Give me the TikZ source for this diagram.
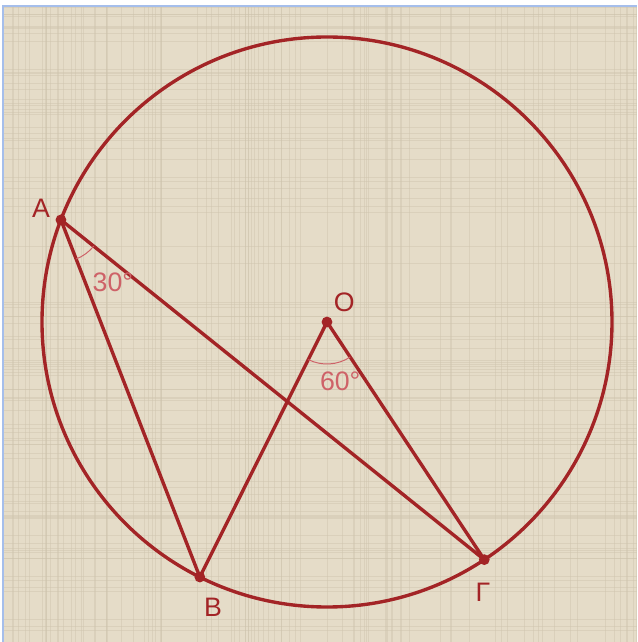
\documentclass[tikz,border=0pt]{standalone}
\usepackage{fontspec}
\setsansfont{Liberation Sans}
\usetikzlibrary{angles}
\definecolor{wine}{RGB}{163,36,38}
\definecolor{rosy}{RGB}{206,98,104}
\definecolor{paper}{RGB}{229,220,200}
\definecolor{weave}{RGB}{205,195,172}
\definecolor{frameblue}{RGB}{165,190,235}
\tikzset{
  edge/.style={draw=wine, line width=2.4pt},
  dot/.style={circle, fill=wine, inner sep=0pt, minimum size=2.7mm},
  lbl/.style={text=wine, font=\sffamily\fontsize{19}{22}\selectfont, inner sep=0pt},
  anglbl/.style={text=rosy, font=\sffamily\fontsize{19}{22}\selectfont, inner sep=0pt},
  arcmark/.style={draw=rosy, line width=0.7pt, angle radius=1.05cm},
  thread/.style={draw=weave, line width=0.5pt, opacity=0.45}
}

\begin{document}
\begin{tikzpicture}

  % page, paper and frame
  \useasboundingbox (-8.175,-8.0) rectangle (7.75,8.05);
  \fill[white] (-8.175,-8.0) rectangle (7.75,8.05);
  \fill[paper] (-8.1,-8.0) rectangle (7.75,7.9);
  \pgfmathsetseed{42}
  \foreach \i in {1,...,90}{
    \pgfmathsetmacro{\px}{-8.1+15.85*rnd}
    \pgfmathsetmacro{\py}{-8.0+15.9*rnd}
    \draw[thread] (\px,-8.0) -- (\px,7.9);
    \draw[thread] (-8.1,\py) -- (7.75,\py);
  }
  \draw[frameblue, line width=1.5pt] (-8.1,-8.0) -- (-8.1,7.9) -- (7.75,7.9);

  % points on the circle
  \coordinate (O) at (0,0);
  \coordinate (A) at (159:7.125);
  \coordinate (B) at (243.5:7.125);
  \coordinate (G) at (303.5:7.125);

  \draw[edge] (O) circle[radius=7.125];
  \draw[edge] (A) -- (B);
  \draw[edge] (A) -- (G);
  \draw[edge] (B) -- (O);
  \draw[edge] (O) -- (G);

  % angles
  \pic[arcmark] {angle = B--A--G};
  \pic[arcmark] {angle = B--O--G};

  \node (dotA) [dot] at (A) {};
  \node (dotB) [dot] at (B) {};
  \node (dotG) [dot] at (G) {};
  \node (dotO) [dot] at (O) {};

  \node (labA) [lbl] at ([shift={(-0.5,0.3)}]A) {A};
  \node (labB) [lbl] at ([shift={(0.33,-0.75)}]B) {B};
  \node (labG) [lbl] at ([shift={(-0.03,-0.82)}]G) {Γ};
  \node (labO) [lbl] at ([shift={(0.43,0.48)}]O) {O};
  \node (angA) [anglbl] at ([shift={(1.3,-1.55)}]A) {30°};
  \node (angO) [anglbl] at ([shift={(0.33,-1.48)}]O) {60°};

\end{tikzpicture}
\end{document}
